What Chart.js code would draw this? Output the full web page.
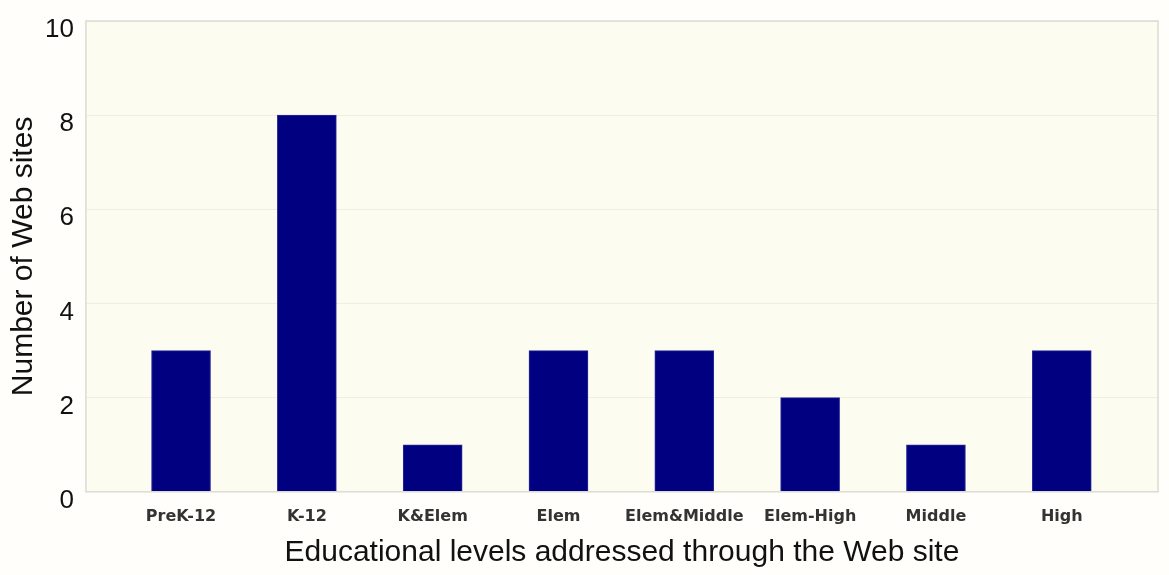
<!DOCTYPE html>
<html>
<head>
<meta charset="utf-8">
<script src="https://cdn.jsdelivr.net/npm/chart.js@4"></script>
<style>
  html, body { margin: 0; padding: 0; background: #fffefa; }
  #wrap { width: 1169px; height: 575px; }
</style>
</head>
<body>
<div id="wrap"><canvas id="chart-area"></canvas></div>
<script>
var levels = ['PreK-12', 'K-12', 'K&Elem', 'Elem', 'Elem&Middle', 'Elem-High', 'Middle', 'High'];
var siteCounts = [3, 8, 1, 3, 3, 2, 1, 3];
var yTicks = [0, 2, 4, 6, 8, 10];

// plot area fill + frame
var plotBg = {
    id: 'plotBg',
    beforeDraw: function(chart) {
        var a = chart.chartArea, ctx = chart.ctx;
        ctx.save();
        ctx.fillStyle = '#fdfcf0';
        ctx.fillRect(a.left, a.top, a.right - a.left, a.bottom - a.top);
        ctx.restore();
    },
    afterDraw: function(chart) {
        var a = chart.chartArea, ctx = chart.ctx;
        ctx.save();
        ctx.strokeStyle = '#dcdcd2';
        ctx.lineWidth = 1.5;
        ctx.strokeRect(a.left, a.top, a.right - a.left, a.bottom - a.top);
        ctx.restore();
    }
};

var config = {
    type: 'bar',
    data: {
        datasets: [{
            data: siteCounts.map(function(v, i) { return { x: i, y: v }; }),
            backgroundColor: '#000080',
            borderColor: '#2b2b9c',
            borderWidth: 1,
            barThickness: 59
        }]
    },
    options: {
        responsive: true,
        maintainAspectRatio: false,
        animation: false,
        layout: { padding: { top: 21, right: 11, left: 9, bottom: 1 } },
        plugins: { legend: { display: false }, tooltip: { enabled: false } },
        scales: {
            x: {
                type: 'linear',
                offset: false,
                min: -0.756,
                max: 7.765,
                afterBuildTicks: function(axis) {
                    axis.ticks = levels.map(function(l, i) { return { value: i }; });
                },
                grid: { display: false, drawTicks: false },
                border: { display: false },
                ticks: {
                    autoSkip: false,
                    maxRotation: 0,
                    padding: 15,
                    color: '#333',
                    font: { family: 'DejaVu Sans', size: 16, weight: 'bold' },
                    callback: function(v) { return levels[v]; }
                },
                title: {
                    display: true,
                    text: 'Educational levels addressed through the Web site',
                    color: '#111',
                    font: { family: 'Liberation Sans', size: 30, lineHeight: 1 },
                    padding: { top: -3, bottom: 6 }
                }
            },
            y: {
                min: 0,
                max: 10,
                afterBuildTicks: function(axis) {
                    axis.ticks = yTicks.map(function(v) { return { value: v }; });
                },
                afterFit: function(axis) {
                    axis.paddingTop = 0;
                    axis.paddingBottom = 0;
                },
                grid: { color: '#efeee0', drawTicks: false },
                border: { display: false },
                ticks: {
                    padding: 12,
                    labelOffset: 9,
                    color: '#111',
                    font: { family: 'Liberation Sans', size: 26 }
                },
                title: {
                    display: true,
                    text: 'Number of Web sites',
                    color: '#111',
                    font: { family: 'Liberation Sans', size: 30, lineHeight: 1 },
                    padding: { top: 0, bottom: -6 }
                }
            }
        }
    },
    plugins: [plotBg]
};

window.onload = function() {
    var ctx = document.getElementById('chart-area').getContext('2d');
    window.myBar = new Chart(ctx, config);
};
</script>
</body>
</html>
